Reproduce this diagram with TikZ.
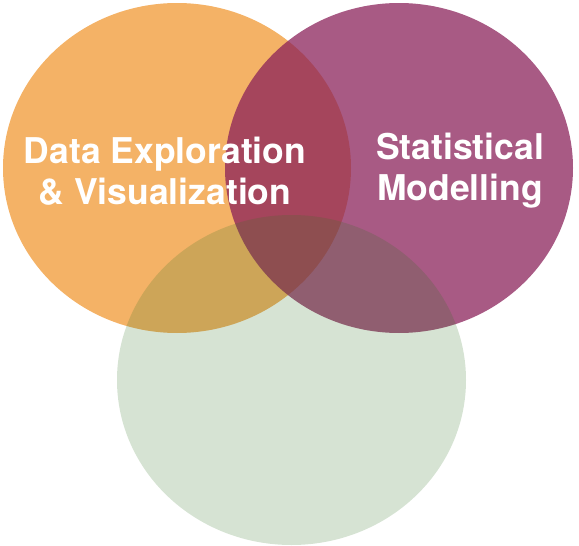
\documentclass[tikz,border=0pt]{standalone}
\usepackage{fontspec}
\setmainfont{TeX Gyre Heros}
\usetikzlibrary{positioning}
\definecolor{vennorange}{RGB}{244,178,102}
\definecolor{vennpurple}{RGB}{138,32,89}
\definecolor{venngreen}{RGB}{50,115,35}
\tikzstyle{venntext} = [text=white, font=\fontsize{35.5}{41}\selectfont\bfseries, align=center, inner sep=0pt]

\begin{document}
\begin{tikzpicture}[x=1pt,y=-1pt]
\useasboundingbox (0,0) rectangle (579,546);
\fill[vennorange] (177,168) ellipse (174 and 165);
\fill[vennpurple, opacity=0.74] (399,168) ellipse (174 and 165);
\fill[venngreen, opacity=0.2] (291.5,380) ellipse (174.5 and 165);
%\draw[red] (0,0) rectangle (579,546);
\node[venntext] (dataviz) at (165,171) {Data Exploration\\\& Visualization};
\node[venntext] (stats) at (460,171) {Statistical\\Modelling};
\end{tikzpicture}
\end{document}
